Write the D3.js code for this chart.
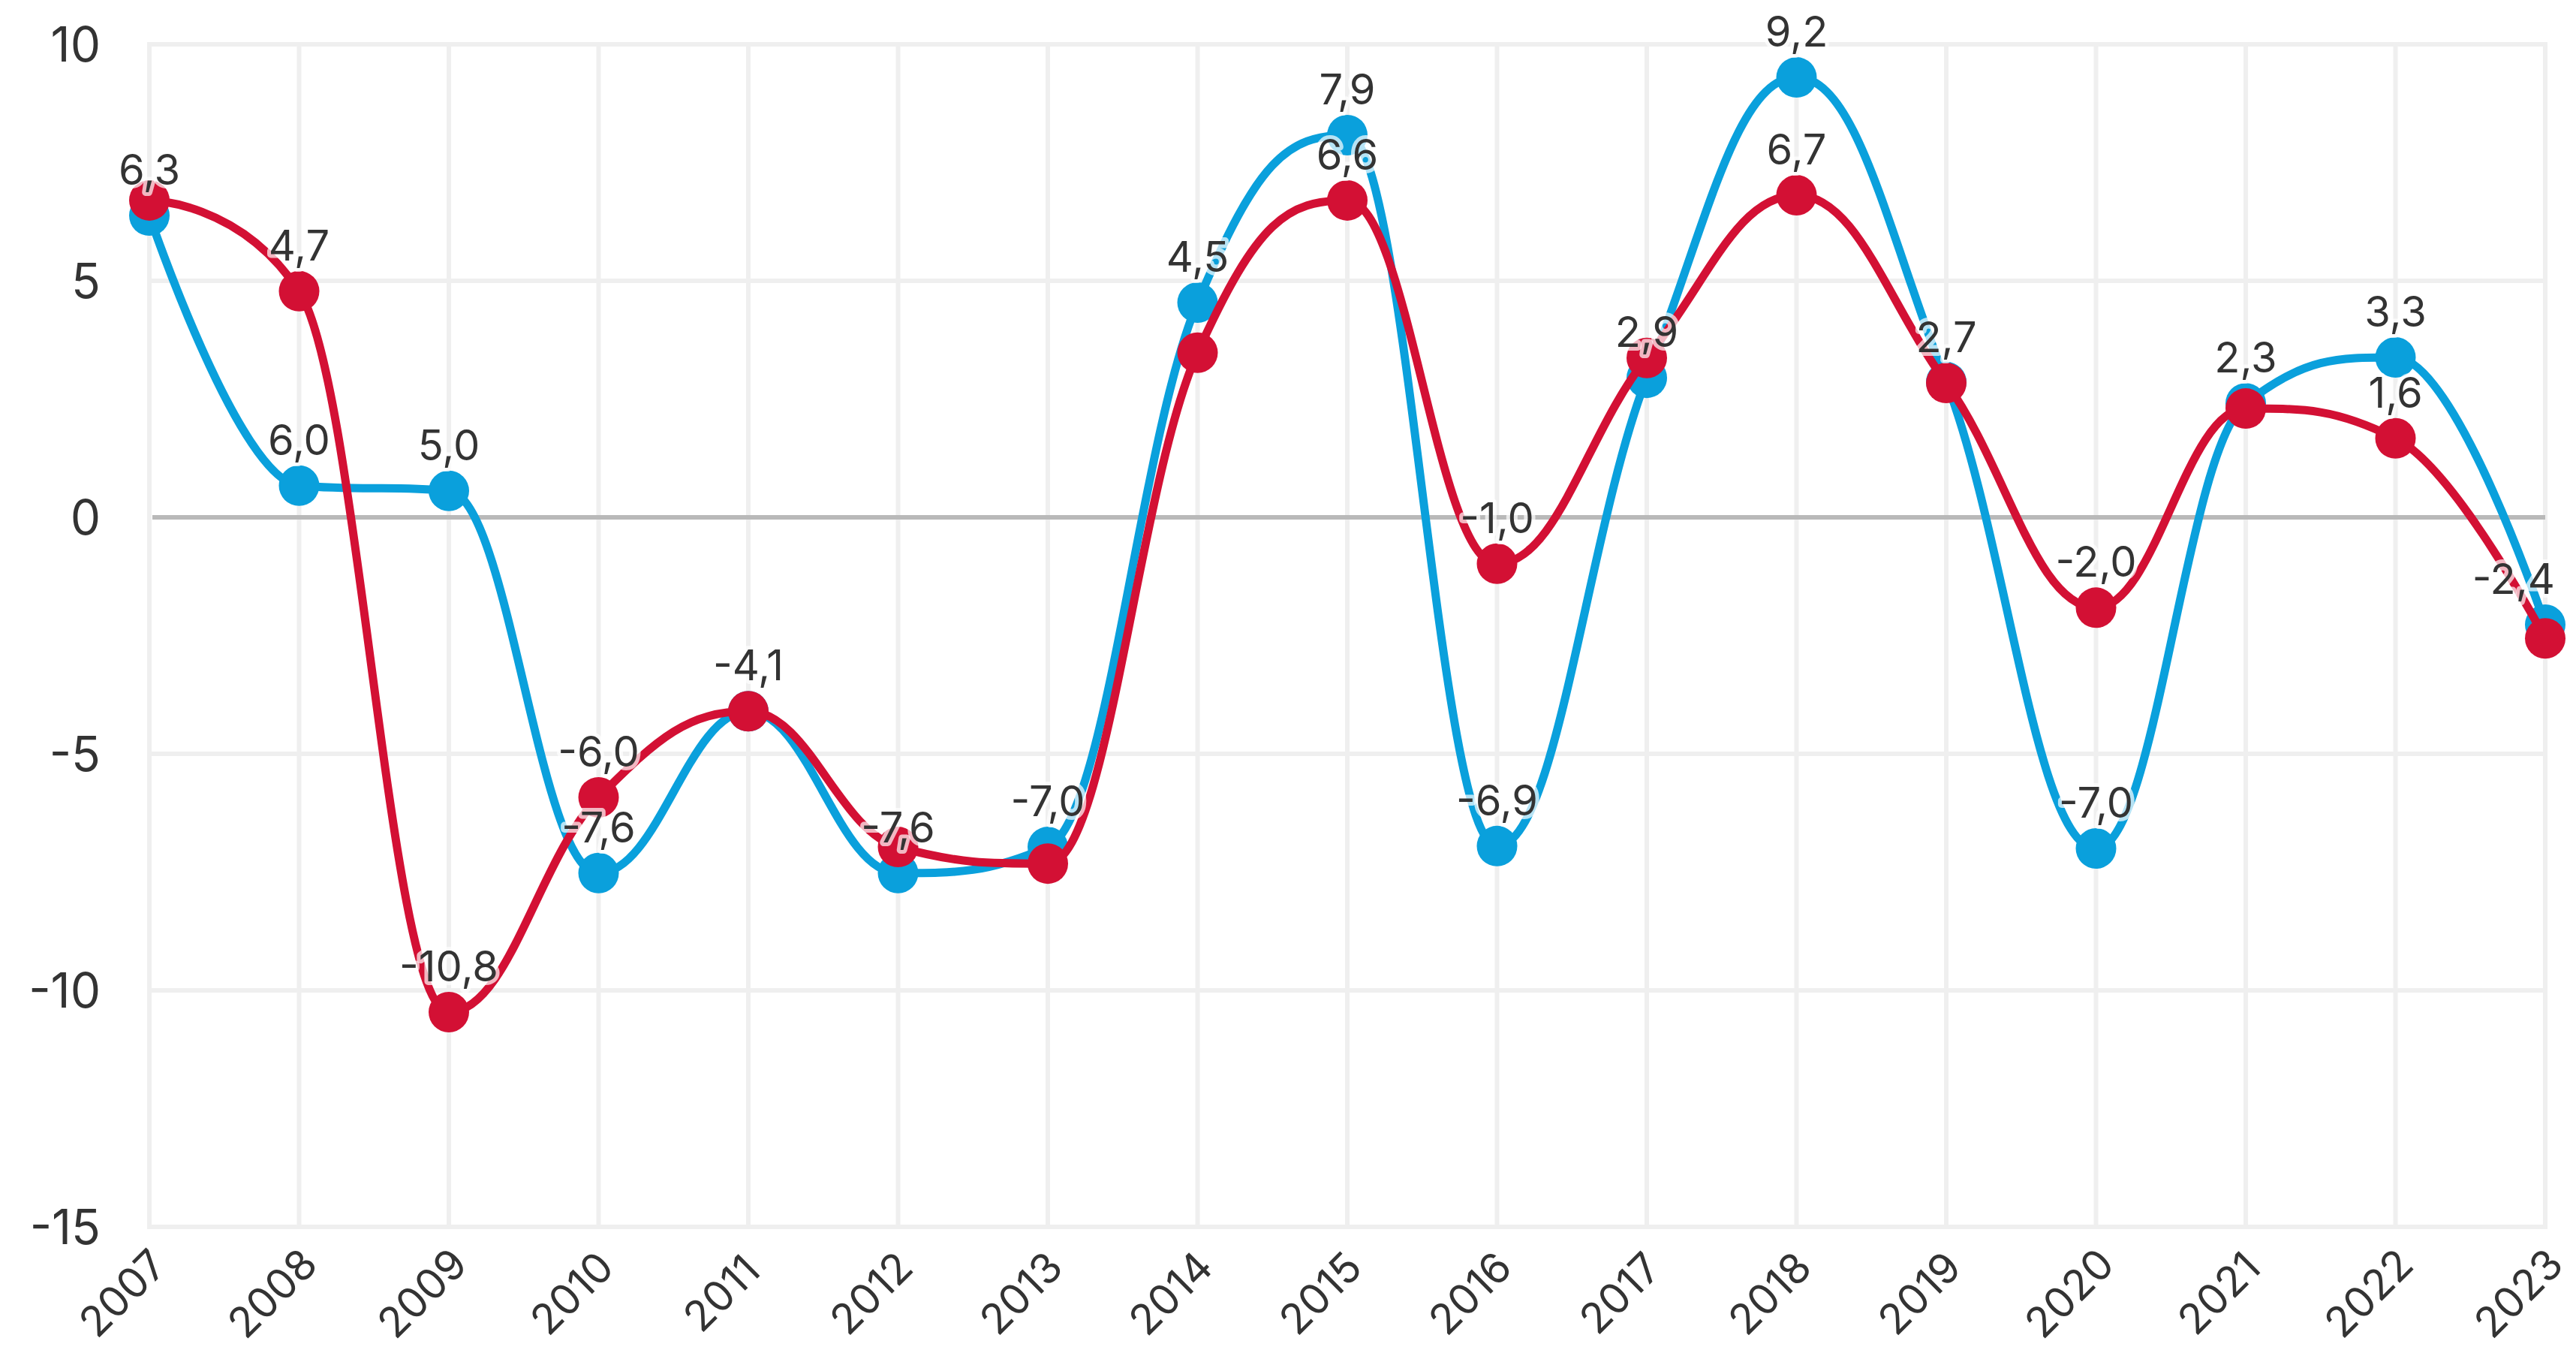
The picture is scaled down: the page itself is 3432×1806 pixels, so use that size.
<!DOCTYPE html>
<html>
<head>
<meta charset="utf-8">
<script src="https://cdn.jsdelivr.net/npm/d3@7"></script>
<style>
  html, body { margin: 0; padding: 0; background: #ffffff; }
  svg { display: block; }
  text { font-family: Inter, "Noto Sans", sans-serif; fill: #333333; }
</style>
</head>
<body>
<svg id="chart" width="3432" height="1806"></svg>
<script>
// ---- data ----
const years = ["2007","2008","2009","2010","2011","2012","2013","2014","2015","2016","2017","2018","2019","2020","2021","2022","2023"];
const blueValues = [6.38, 0.67, 0.56, -7.52, -4.1, -7.52, -6.97, 4.54, 8.08, -6.95, 2.95, 9.3, 2.86, -7.0, 2.41, 3.38, -2.27];
const redValues  = [6.7, 4.78, -10.46, -5.92, -4.1, -6.97, -7.32, 3.48, 6.7, -0.98, 3.37, 6.81, 2.84, -1.91, 2.3, 1.67, -2.56];
const blueLabels = ["6,3","6,0","5,0","-7,6",null,"-7,6","-7,0","4,5","7,9","-6,9","2,9","9,2",null,"-7,0","2,3","3,3","-2,4"];
const redLabels  = [null,"4,7","-10,8","-6,0","-4,1",null,null,null,"6,6","-1,0",null,"6,7","2,7","-2,0",null,"1,6",null];
const yTicks = [10, 5, 0, -5, -10, -15];

// ---- layout ----
const svg = d3.select("#chart");
const x = d3.scalePoint().domain(years).range([199, 3391]);
const y = d3.scaleLinear().domain([-15, 10]).range([1634, 59]);
const gridColor = "#efefef";

// vertical gridlines
svg.append("g").selectAll("line").data(years).join("line")
  .attr("x1", d => x(d)).attr("x2", d => x(d))
  .attr("y1", y(10) - 3).attr("y2", y(-15) + 3)
  .attr("stroke", gridColor).attr("stroke-width", 6);

// horizontal gridlines
svg.append("g").selectAll("line").data(yTicks.filter(d => d !== 0)).join("line")
  .attr("x1", x(years[0])).attr("x2", x(years[years.length-1]))
  .attr("y1", d => y(d)).attr("y2", d => y(d))
  .attr("stroke", gridColor).attr("stroke-width", 6);

// zero line
svg.append("line")
  .attr("x1", x(years[0]) + 4).attr("x2", x(years[years.length-1]))
  .attr("y1", y(0)).attr("y2", y(0))
  .attr("stroke", "#b9b9b9").attr("stroke-width", 6);

// y tick labels
svg.append("g").selectAll("text").data(yTicks).join("text")
  .attr("x", 134).attr("y", d => y(d)).attr("dy", "0.36em")
  .attr("text-anchor", "end").attr("font-size", 64)
  .text(d => d);

// x tick labels
svg.append("g").selectAll("text").data(years).join("text")
  .attr("transform", d => `translate(${x(d) - 36},1722) rotate(-45)`)
  .attr("text-anchor", "middle").attr("dy", "0.36em")
  .attr("font-size", 56)
  .text(d => d);

// Highcharts-style spline path
function splinePath(pts) {
  const sm = 1.5, den = sm + 1;
  const ctrl = pts.map((pt, i) => {
    const last = pts[i-1], next = pts[i+1];
    if (!last || !next) return {lx: pt.x, ly: pt.y, rx: pt.x, ry: pt.y};
    let lx = (sm*pt.x + last.x)/den, ly = (sm*pt.y + last.y)/den;
    let rx = (sm*pt.x + next.x)/den, ry = (sm*pt.y + next.y)/den;
    if (rx !== lx) {
      const c = ((ry - ly)*(rx - pt.x))/(rx - lx) + pt.y - ry;
      ly += c; ry += c;
      if (ly > last.y && ly > pt.y) { ly = Math.max(last.y, pt.y); ry = 2*pt.y - ly; }
      else if (ly < last.y && ly < pt.y) { ly = Math.min(last.y, pt.y); ry = 2*pt.y - ly; }
      if (ry > next.y && ry > pt.y) { ry = Math.max(next.y, pt.y); ly = 2*pt.y - ry; }
      else if (ry < next.y && ry < pt.y) { ry = Math.min(next.y, pt.y); ly = 2*pt.y - ry; }
    }
    return {lx, ly, rx, ry};
  });
  const p = d3.path();
  p.moveTo(pts[0].x, pts[0].y);
  for (let i = 1; i < pts.length; i++) {
    p.bezierCurveTo(ctrl[i-1].rx, ctrl[i-1].ry, ctrl[i].lx, ctrl[i].ly, pts[i].x, pts[i].y);
  }
  return p.toString();
}

const series = [
  {values: blueValues, labels: blueLabels, color: "#0aa0dc"},
  {values: redValues,  labels: redLabels,  color: "#d31034"}
];

series.forEach(s => {
  const pts = years.map((yr, i) => ({x: x(yr), y: y(s.values[i])}));
  const g = svg.append("g");
  g.append("path").attr("d", splinePath(pts))
    .attr("fill", "none").attr("stroke", s.color).attr("stroke-width", 11)
    .attr("stroke-linejoin", "round").attr("stroke-linecap", "round");
  g.selectAll("circle").data(pts).join("circle")
    .attr("cx", d => d.x).attr("cy", d => d.y).attr("r", 27)
    .attr("fill", s.color);
});

// data labels (kept inside the chart's right edge)
const rightLimit = 3404;
series.forEach(s => {
  const items = years.map((yr, i) => ({yr, v: s.values[i], t: s.labels[i]})).filter(d => d.t !== null);
  svg.append("g").selectAll("text").data(items).join("text")
    .attr("x", d => x(d.yr)).attr("y", d => y(d.v) - 41)
    .attr("text-anchor", "middle").attr("font-size", 56)
    .attr("stroke", "#ffffff").attr("stroke-opacity", 0.7).attr("stroke-width", 10)
    .attr("stroke-linejoin", "round").attr("paint-order", "stroke")
    .text(d => d.t)
    .each(function(d) {
      const w = this.getComputedTextLength();
      const cx = x(d.yr);
      if (cx + w / 2 > rightLimit) d3.select(this).attr("x", rightLimit - w / 2);
    });
});
</script>
</body>
</html>
